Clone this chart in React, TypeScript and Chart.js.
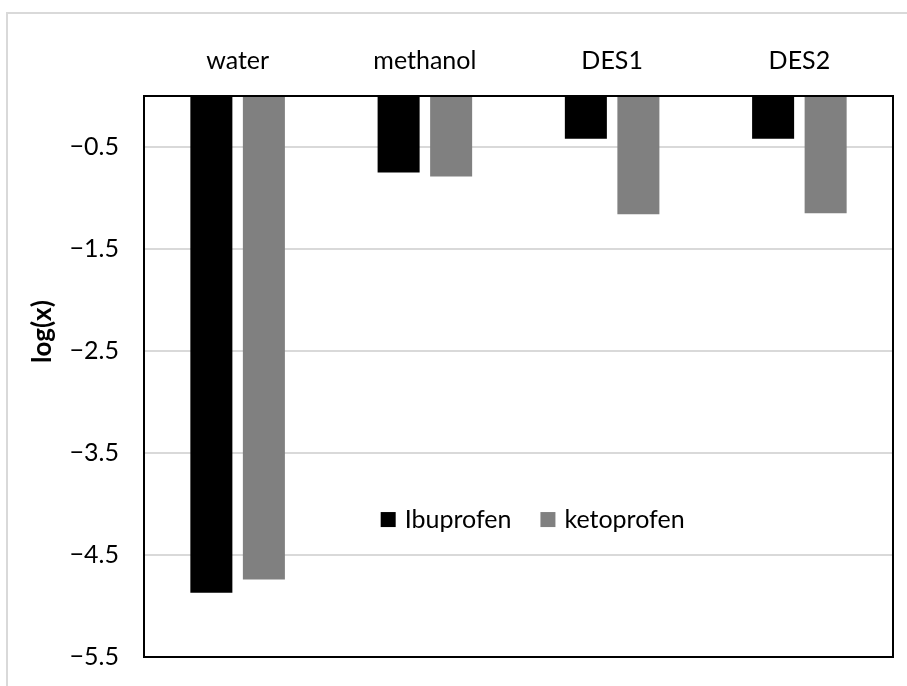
import React, { useEffect, useRef } from "react";
import { Chart, registerables } from "chart.js";

Chart.register(...registerables);

const categories = ["water", "methanol", "DES1", "DES2"];
const ibuprofen = [-4.87, -0.75, -0.42, -0.42];
const ketoprofen = [-4.74, -0.79, -1.16, -1.15];
const seriesNames = ["Ibuprofen", "ketoprofen"];
const tickValues = [-5.5, -4.5, -3.5, -2.5, -1.5, -0.5];
const yTitle = "log(x)";

const FONT = "Lato, 'Open Sans', sans-serif";

const framePlugin = {
  id: "frame",
  afterDraw(chart: any) {
    const { ctx, chartArea } = chart;
    const { left, top, right, bottom } = chartArea;
    ctx.save();
    // plot border
    ctx.strokeStyle = "#000";
    ctx.lineWidth = 2;
    ctx.strokeRect(left, top, right - left, bottom - top);

    // y title
    ctx.fillStyle = "#000";
    ctx.font = `bold 26px ${FONT}`;
    ctx.textAlign = "center";
    ctx.textBaseline = "middle";
    ctx.translate(left - 101, top + (bottom - top) * 0.42);
    ctx.rotate(-Math.PI / 2);
    ctx.fillText(yTitle, 0, 0);
    ctx.restore();

    // legend
    ctx.save();
    ctx.font = `25px ${FONT}`;
    ctx.textBaseline = "middle";
    ctx.textAlign = "left";
    const box = 15;
    let x = left + (right - left) * 0.316;
    const cy = top + (bottom - top) * 0.755;
    chart.data.datasets.forEach((ds: any) => {
      ctx.fillStyle = ds.backgroundColor;
      ctx.fillRect(x, cy - box / 2, box, box);
      x += box + 9;
      ctx.fillStyle = "#000";
      ctx.fillText(ds.label, x, cy);
      x += ctx.measureText(ds.label).width + 29;
    });
    ctx.restore();
  },
};

export default function App() {
  const ref = useRef<HTMLCanvasElement>(null);

  useEffect(() => {
    if (!ref.current) return;
    const chart = new Chart(ref.current, {
      type: "bar",
      data: {
        labels: categories,
        datasets: [
          {
            label: seriesNames[0],
            data: ibuprofen,
            backgroundColor: "#000000",
            borderWidth: 0,
            categoryPercentage: 0.561,
            barPercentage: 0.8,
          },
          {
            label: seriesNames[1],
            data: ketoprofen,
            backgroundColor: "#808080",
            borderWidth: 0,
            categoryPercentage: 0.561,
            barPercentage: 0.8,
          },
        ],
      },
      options: {
        animation: false,
        responsive: false,
        maintainAspectRatio: false,
        layout: {
          autoPadding: false,
          padding: { left: 0, top: 0, right: 14, bottom: 29 },
        },
        plugins: {
          legend: { display: false },
          tooltip: { enabled: false },
        },
        scales: {
          x: {
            position: "top",
            grid: { display: false, drawTicks: false },
            border: { display: false },
            ticks: {
              color: "#000",
              font: { family: FONT, size: 25 },
              padding: 20,
              maxRotation: 0,
            },
            afterFit(scale: any) {
              scale.height = 96;
            },
          },
          y: {
            min: -5.5,
            max: 0,
            grid: { color: "#d9d9d9", lineWidth: 2, drawTicks: false },
            border: { display: false },
            ticks: {
              color: "#000",
              font: { family: FONT, size: 25 },
              padding: 25,
              callback: (v: any) =>
                (Number(v) < 0 ? "\u2212" : "") + Math.abs(Number(v)).toFixed(1),
            },
            afterBuildTicks(scale: any) {
              scale.ticks = tickValues.map((v) => ({ value: v }));
            },
            afterFit(scale: any) {
              scale.width = 144;
              scale.paddingTop = 0;
              scale.paddingBottom = 0;
            },
          },
        },
      },
      plugins: [framePlugin],
    });
    return () => chart.destroy();
  }, []);

  return (
    <div
      style={{
        position: "absolute",
        left: 0,
        top: 0,
        width: 907,
        height: 686,
        overflow: "hidden",
        background: "#fff",
      }}
    >
      <div
        style={{
          position: "absolute",
          left: 6,
          top: 12,
          width: 1000,
          height: 1000,
          border: "2px solid #d9d9d9",
        }}
      />
      <canvas
        ref={ref}
        width={907}
        height={686}
        style={{ position: "absolute", left: 0, top: 0, width: 907, height: 686 }}
      />
    </div>
  );
}
